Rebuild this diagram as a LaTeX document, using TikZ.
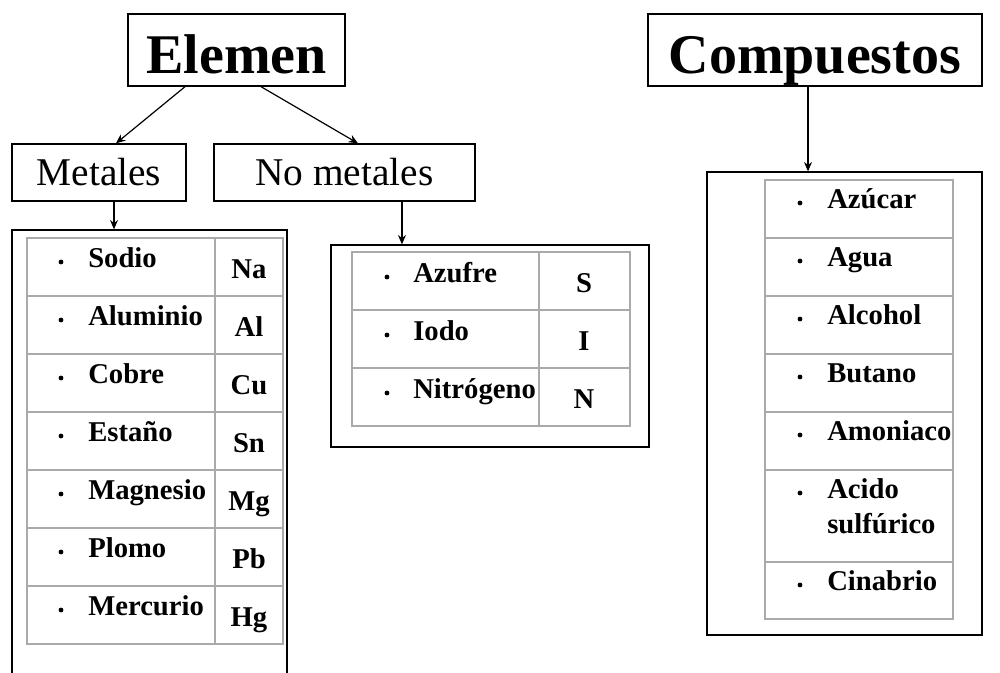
\documentclass[tikz,border=0pt]{standalone}
\usepackage{fontspec}
\setmainfont{Liberation Serif}
\usetikzlibrary{arrows.meta,fit}
\definecolor{tgray}{RGB}{170,170,170}
\begin{document}
\begin{tikzpicture}[x=0.75pt,y=-0.75pt,
 box/.style={draw=black,line width=1pt,inner sep=0pt,rectangle},
 cont/.style={draw=black,line width=1pt,inner sep=0pt,rectangle},
 arr/.style={draw=black,line width=0.9pt,-{Stealth[length=7pt,width=6pt]}},
 tcell/.style={draw=tgray,line width=1.8pt},
 ttext/.style={inner sep=0pt,anchor=base west,font=\fontsize{21.5}{26}\selectfont\bfseries},
 tsym/.style={inner sep=0pt,anchor=base,font=\fontsize{21.5}{26}\selectfont\bfseries},
 dot/.style={circle,fill=black,inner sep=0pt,minimum size=3.6pt},
 titlebox/.style={box,minimum width=#1,minimum height=54pt,text height=34.5pt,text depth=0pt,font=\fontsize{42}{48}\selectfont\bfseries},
 subbox/.style={box,minimum width=#1,minimum height=42.75pt,text height=18.75pt,text depth=0pt,font=\fontsize{29.5}{34}\selectfont}
]
\useasboundingbox (0,0) rectangle (1000,672);

% title and category boxes
\node[titlebox=162.75pt] (elemen) at (236.5,50) {Elemen};
\node[titlebox=250.5pt] (compuestos) at (815,50) {Compuestos};
\node[subbox=130.5pt] (metales) at (99,172.5) {Metales};
\node[subbox=195.75pt] (nometales) at (344.5,172.5) {No metales};

% containers
\node[cont,fit={(12,230)(287,690)}] (metbox) {};
\node[cont,fit={(331,245)(649,447)}] (nmbox) {};
\node[cont,fit={(707,172)(982,635)}] (compbox) {};

% connectors
\draw[arr] ([xshift=-38.6pt]elemen.south) -- ([xshift=12.75pt]metales.north);
\draw[arr] ([xshift=18.4pt]elemen.south) -- ([xshift=10.1pt]nometales.north);
\draw[arr] ([xshift=11.25pt]metales.south) -- ([xshift=11.25pt]metales.south |- metbox.north);
\draw[arr] ([xshift=43.1pt]nometales.south) -- ([xshift=43.1pt]nometales.south |- nmbox.north);
\draw[arr] ([xshift=-5.25pt]compuestos.south) -- ([xshift=-5.25pt]compuestos.south |- compbox.north);

% Metales table
\foreach \i in {0,...,6}{
  \draw[tcell] (27,{238+58*\i}) rectangle (215,{296+58*\i});
  \draw[tcell] (215,{238+58*\i}) rectangle (283,{296+58*\i});
}
\foreach \n/\s [count=\i from 0] in {Sodio/Na,Aluminio/Al,Cobre/Cu,Estaño/Sn,Magnesio/Mg,Plomo/Pb,Mercurio/Hg}{
  \node[dot] (mb\i) at (61,{238+58*\i+24}) {};
  \node[ttext] (mn\i) at (88,{238+58*\i+29}) {\n};
  \node[tsym] (ms\i) at (249,{238+58*\i+40}) {\s};
}

% No metales table
\foreach \i in {0,...,2}{
  \draw[tcell] (352,{252+58*\i}) rectangle (539,{310+58*\i});
  \draw[tcell] (539,{252+58*\i}) rectangle (630,{310+58*\i});
}
\foreach \n/\s [count=\i from 0] in {Azufre/S,Iodo/I,Nitrógeno/N}{
  \node[dot] (nb\i) at (387,{252+58*\i+25}) {};
  \node[ttext] (nn\i) at (413,{252+58*\i+30}) {\n};
  \node[tsym] (ns\i) at (584,{252+58*\i+40}) {\s};
}

% Compuestos table
\foreach \t/\b in {180/238,238/296,296/354,354/412,412/470,470/562,562/619}{
  \draw[tcell] (765,\t) rectangle (953,\b);
}
\foreach \n/\t [count=\i from 0] in {Azúcar/180,Agua/238,Alcohol/296,Butano/354,Amoniaco/412,Acido/470,Cinabrio/562}{
  \node[dot] (cb\i) at (800,{\t+23}) {};
  \node[ttext] (cn\i) at (827,{\t+28}) {\n};
}
\node[ttext] (cn5b) at (827,533) {sulfúrico};

\end{tikzpicture}
\end{document}
